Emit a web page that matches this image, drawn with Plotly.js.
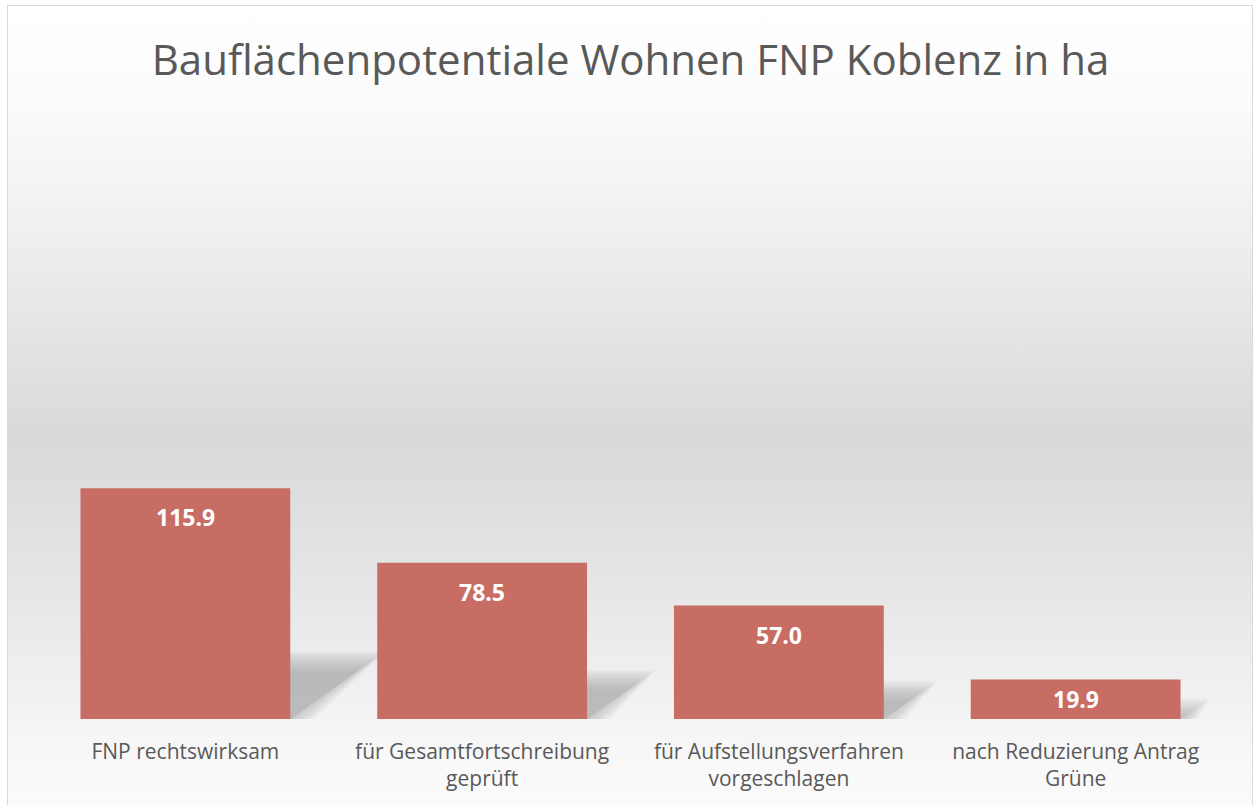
<!DOCTYPE html>
<html>
<head>
<meta charset="utf-8">
<script src="https://cdn.plot.ly/plotly-3.0.1.min.js"></script>
<style>
  html, body { margin: 0; padding: 0; background: #ffffff; overflow: hidden; }
  #frame {
    position: absolute; left: 7px; top: 5px; width: 1246px; height: 830px;
    border: 1px solid #d9d9d9; box-sizing: border-box;
    background: linear-gradient(to bottom, #ffffff 0px, #fbfbfb 100px, #ededed 250px, #d9d9d9 430px, #e4e4e4 560px, #f1f1f1 690px, #f9f9f9 760px, #fcfcfc 830px);
  }
  #chart { position: absolute; left: 0; top: 0; width: 1255px; height: 805px; }
</style>
</head>
<body>
<div id="frame"></div>
<div id="chart"></div>
<script>
const categories = [
  "FNP rechtswirksam",
  "für Gesamtfortschreibung<br>geprüft",
  "für Aufstellungsverfahren<br>vorgeschlagen",
  "nach Reduzierung Antrag<br>Grüne"
];
const values = [115.9, 78.5, 57.0, 19.9];
const chartTitle = "Bauflächenpotentiale Wohnen FNP Koblenz in ha";

const positions = categories.map((c, i) => i);
const barWidth = 0.707;
const yMax = 311;
const marginT = 100, marginB = 86, marginL = 37, marginR = 31;
const pxPerY = (805 - marginT - marginB) / yMax;
const pxPerX = (1255 - marginL - marginR) / 4;

// perspective shadows behind bars (soft, layered)
const shapes = [];
const slant = 0.345;   // px right per px bar height
const rise = 0.247;    // shadow height fraction
const nLayers = 14;
values.forEach((v, i) => {
  const x0 = i - barWidth / 2, x1 = i + barWidth / 2;
  const hPx = v * pxPerY;
  for (let j = 0; j < nLayers; j++) {
    const e = (j - (nLayers - 1) / 2) * 1.6; // inset in px
    const topPx = hPx * rise - e;
    const shiftPx = hPx * slant - e * 1.4;
    if (topPx <= 1 || shiftPx <= 1) continue;
    const topY = topPx / pxPerY;
    const sh = shiftPx / pxPerX;
    const bot = -Math.max(0, 3 - e) / pxPerY;
    const path = `M ${x0},${bot} L ${x1 + Math.max(0, -e) / pxPerX},${bot} L ${x1 + sh},${topY} L ${x0 + sh},${topY} Z`;
    shapes.push({
      type: 'path', xref: 'x', yref: 'y', path: path, layer: 'below',
      fillcolor: 'rgba(160,160,160,0.08)', line: { width: 0 }
    });
  }
});

const annotations = values.map((v, i) => {
  const hPx = v * pxPerY;
  const shift = -Math.min(29, hPx / 2);
  return {
    x: i, y: v, xref: 'x', yref: 'y', text: v.toFixed(1), showarrow: false,
    yanchor: 'middle', yshift: shift,
    font: { family: 'Open Sans', size: 23, color: '#ffffff', weight: 'bold' }
  };
});

const trace = {
  type: 'bar', x: positions, y: values, width: barWidth,
  marker: { color: '#c86d64', line: { width: 0 } },
  hoverinfo: 'skip'
};

const layout = {
  width: 1255, height: 805,
  margin: { l: marginL, r: marginR, t: marginT, b: marginB, pad: 0 },
  paper_bgcolor: 'rgba(0,0,0,0)', plot_bgcolor: 'rgba(0,0,0,0)',
  title: {
    text: chartTitle, x: 0.5, xref: 'paper', xanchor: 'center',
    y: 1 - 60 / 805, yref: 'container', yanchor: 'middle',
    font: { family: 'Open Sans', size: 42, color: '#595959' }
  },
  showlegend: false,
  xaxis: {
    type: 'linear', range: [-0.5, 3.5], tickvals: positions, ticktext: categories,
    showgrid: false, zeroline: false, showline: false, ticks: '',
    ticklabelstandoff: 18,
    tickfont: { family: 'Open Sans', size: 21, color: '#595959' }, fixedrange: true
  },
  yaxis: {
    range: [0, yMax], visible: false, showgrid: false, zeroline: false, fixedrange: true
  },
  shapes: shapes,
  annotations: annotations
};

Plotly.newPlot('chart', [trace], layout, { staticPlot: true, displayModeBar: false });
</script>
</body>
</html>
